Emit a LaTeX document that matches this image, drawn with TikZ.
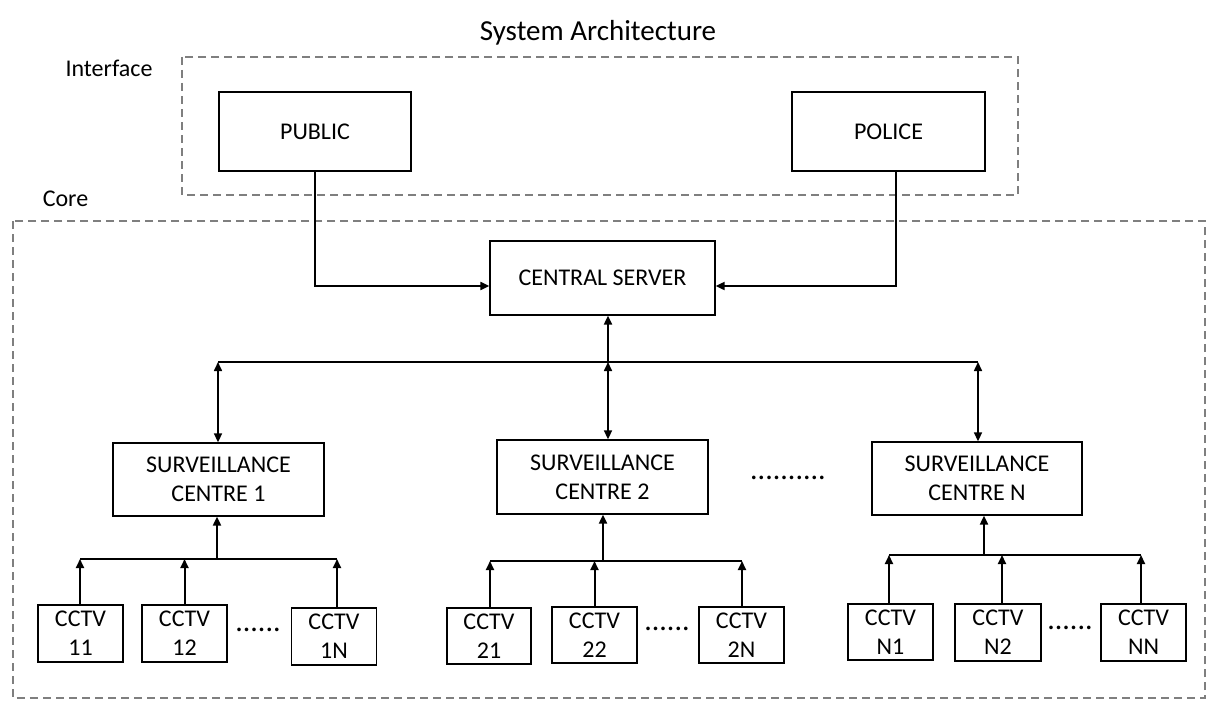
\documentclass[tikz,border=0pt]{standalone}
\usepackage{fontspec}
\setmainfont{Carlito}
\usetikzlibrary{arrows.meta}
\definecolor{dashgray}{HTML}{7F7F7F}
\tikzset{
  every node/.style={font=\fontsize{24}{29}\selectfont},
  bx/.style={draw=black, line width=1.3pt, inner sep=0pt, align=center},
  grp/.style={draw=dashgray, line width=2pt, dash pattern=on 8pt off 5pt},
  conn/.style={draw=black, line width=2pt},
  tip/.style={-{Triangle[length=9pt,width=8pt]}},
  tiptwo/.style={{Triangle[length=9pt,width=8pt]}-{Triangle[length=9pt,width=8pt]}},
  lbl/.style={inner sep=0pt},
  dotsnode/.style={inner sep=0pt, font=\fontsize{30}{30}\selectfont},
}
\begin{document}
\begin{tikzpicture}[x=1pt,y=-1pt]
\useasboundingbox[fill=white] (0,0) rectangle (1221,717);

% labels and groups
\node[lbl, font=\fontsize{29}{32}\selectfont] (title) at (598,33) {System Architecture};
\node[lbl] (iflabel) at (109,68) {Interface};
\node[lbl] (corelabel) at (65.5,199) {Core};
\draw[grp] (182,57) rectangle (1018,195);
\draw[grp] (13,221) rectangle (1205,698);

% interface boxes
\node[bx, minimum width=192pt, minimum height=79pt] (public) at (315,131.5) {PUBLIC};
\node[bx, minimum width=193pt, minimum height=79pt] (police) at (888.5,131.5) {POLICE};

% server
\node[bx, minimum width=225pt, minimum height=74pt] (server) at (602.5,278) {CENTRAL SERVER};

% surveillance centres
\node[bx, minimum width=211pt, minimum height=73pt] (sc1) at (218.5,479.5) {SURVEILLANCE\\CENTRE 1};
\node[bx, minimum width=211pt, minimum height=74pt] (sc2) at (602.5,477) {SURVEILLANCE\\CENTRE 2};
\node[bx, minimum width=210pt, minimum height=73pt] (scn) at (977,478.5) {SURVEILLANCE\\CENTRE N};
\node[dotsnode] (scdots) at (788,478) {..........};

% cameras
\node[bx, minimum width=85pt, minimum height=57pt] (c11) at (80.5,633.5) {CCTV\\11};
\node[bx, minimum width=85pt, minimum height=57pt] (c12) at (184.5,633.5) {CCTV\\12};
\node[bx, minimum width=85pt, minimum height=57pt] (c1n) at (334,636.5) {CCTV\\1N};
\node[dotsnode] (d1) at (258,630) {......};

\node[bx, minimum width=84pt, minimum height=56pt] (c21) at (489,636) {CCTV\\21};
\node[bx, minimum width=85pt, minimum height=56pt] (c22) at (594.5,635) {CCTV\\22};
\node[bx, minimum width=85pt, minimum height=56pt] (c2n) at (741.5,635) {CCTV\\2N};
\node[dotsnode] (d2) at (667,629) {......};

\node[bx, minimum width=85pt, minimum height=56pt] (cn1) at (890.5,632) {CCTV\\N1};
\node[bx, minimum width=86pt, minimum height=57pt] (cn2) at (998,632.5) {CCTV\\N2};
\node[bx, minimum width=85pt, minimum height=57pt] (cnn) at (1143.5,632.5) {CCTV\\NN};
\node[dotsnode] (d3) at (1070,628) {......};

% interface to server
\draw[conn, tip] (public.south) |- ([yshift=-8pt]server.west);
\draw[conn, tip] ([xshift=7.5pt]police.south) |- ([yshift=-8pt]server.east);

% server bus
\coordinate (busL) at (218,362);
\coordinate (busM) at (608,362);
\coordinate (busR) at (978,362);
\draw[conn] (busL) -- (busR);
\draw[conn, tip] (busM) -- (busM |- server.south);
\draw[conn, tiptwo, line width=1.6pt] (busL) -- (busL |- sc1.north);
\draw[conn, tiptwo, line width=1.6pt] (busM) -- (busM |- sc2.north);
\draw[conn, tiptwo, line width=1.6pt] (busR) -- (busR |- scn.north);

% centre 1 bus
\coordinate (j1) at (217,559);
\coordinate (b1L) at (80,559);
\coordinate (b1R) at (337,559);
\draw[conn] (b1L) -- (b1R);
\draw[conn, tip] (j1) -- (j1 |- sc1.south);
\draw[conn, tip] (b1L |- c11.north) -- (b1L);
\draw[conn, tip] (c12.north) -- (c12.north |- b1L);
\draw[conn, tip] (b1R |- c1n.north) -- (b1R);

% centre 2 bus
\coordinate (j2) at (603,561);
\coordinate (b2L) at (490,561);
\coordinate (b2R) at (742,561);
\draw[conn] (b2L) -- (b2R);
\draw[conn, tip] (j2) -- (j2 |- sc2.south);
\draw[conn, tip] (b2L |- c21.north) -- (b2L);
\draw[conn, tip] (c22.north) -- (c22.north |- b2L);
\draw[conn, tip] (b2R |- c2n.north) -- (b2R);

% centre N bus
\coordinate (jn) at (984,555);
\coordinate (bnL) at (889,555);
\coordinate (bnR) at (1141,555);
\draw[conn] (bnL) -- (bnR);
\draw[conn, tip] (jn) -- (jn |- scn.south);
\draw[conn, tip] (bnL |- cn1.north) -- (bnL);
\draw[conn, tip] ([xshift=4pt]cn2.north) -- ([xshift=4pt]cn2.north |- bnL);
\draw[conn, tip] (bnR |- cnn.north) -- (bnR);
\end{tikzpicture}
\end{document}
